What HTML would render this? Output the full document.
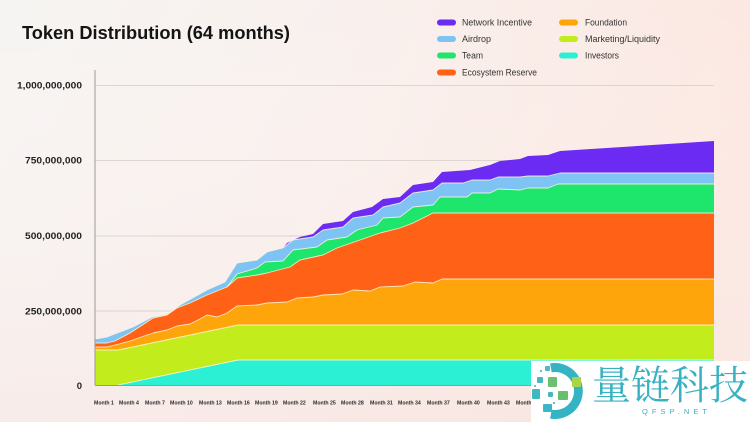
<!DOCTYPE html>
<html>
<head>
<meta charset="utf-8">
<style>
html,body{margin:0;padding:0;width:750px;height:422px;overflow:hidden;}
svg{display:block;}
</style>
</head>
<body>
<svg width="750" height="422" viewBox="0 0 750 422" xmlns="http://www.w3.org/2000/svg">
<defs>
<linearGradient id="bg" x1="0" y1="0" x2="1" y2="0.35">
<stop offset="0" stop-color="#f6f4f2"/>
<stop offset="0.45" stop-color="#f9f0ed"/>
<stop offset="1" stop-color="#fce6df"/>
</linearGradient>
<linearGradient id="bg2" x1="0" y1="0" x2="0" y2="1">
<stop offset="0" stop-color="#ffffff" stop-opacity="0"/>
<stop offset="1" stop-color="#f6e6e4" stop-opacity="0.5"/>
</linearGradient>
</defs>
<rect x="0" y="0" width="750" height="422" fill="url(#bg)"/>
<rect x="0" y="0" width="750" height="422" fill="url(#bg2)"/>

<!-- title -->
<text x="22" y="39" font-family="Liberation Sans, sans-serif" font-weight="bold" font-size="18" fill="#141414" textLength="268" lengthAdjust="spacingAndGlyphs">Token Distribution (64 months)</text>

<!-- legend -->
<g font-family="Liberation Sans, sans-serif" font-size="9" fill="#333">
<rect x="437" y="19.5" width="19" height="6" rx="3" fill="#6b2bf2"/>
<text x="462" y="25.7" textLength="70" lengthAdjust="spacingAndGlyphs">Network Incentive</text>
<rect x="437" y="36" width="19" height="6" rx="3" fill="#7ec3f4"/>
<text x="462" y="42.2" textLength="29" lengthAdjust="spacingAndGlyphs">Airdrop</text>
<rect x="437" y="52.5" width="19" height="6" rx="3" fill="#1ee56b"/>
<text x="462" y="58.7" textLength="21" lengthAdjust="spacingAndGlyphs">Team</text>
<rect x="437" y="69.5" width="19" height="6" rx="3" fill="#ff6116"/>
<text x="462" y="75.7" textLength="75" lengthAdjust="spacingAndGlyphs">Ecosystem Reserve</text>
<rect x="559" y="19.5" width="19" height="6" rx="3" fill="#ffa50c"/>
<text x="585" y="25.7" textLength="42" lengthAdjust="spacingAndGlyphs">Foundation</text>
<rect x="559" y="36" width="19" height="6" rx="3" fill="#c3ec1d"/>
<text x="585" y="42.2" textLength="75" lengthAdjust="spacingAndGlyphs">Marketing/Liquidity</text>
<rect x="559" y="52.5" width="19" height="6" rx="3" fill="#2bf0d3"/>
<text x="585" y="58.7" textLength="34" lengthAdjust="spacingAndGlyphs">Investors</text>
</g>

<!-- gridlines -->
<g stroke="#ddd5d2" stroke-width="1">
<line x1="95" y1="85.5" x2="714" y2="85.5"/>
<line x1="95" y1="160.5" x2="714" y2="160.5"/>
<line x1="95" y1="236" x2="714" y2="236"/>
<line x1="95" y1="311" x2="714" y2="311"/>
</g>

<!-- y labels -->
<g font-family="Liberation Sans, sans-serif" font-weight="bold" font-size="9.5" fill="#222" text-anchor="end">
<text x="82" y="88.5" textLength="65" lengthAdjust="spacingAndGlyphs">1,000,000,000</text>
<text x="82" y="163.5" textLength="57" lengthAdjust="spacingAndGlyphs">750,000,000</text>
<text x="82" y="239" textLength="57" lengthAdjust="spacingAndGlyphs">500,000,000</text>
<text x="82" y="314.5" textLength="57" lengthAdjust="spacingAndGlyphs">250,000,000</text>
<text x="82" y="389">0</text>
</g>

<!-- areas (painter's order) -->
<polygon fill="#6b2bf2" points="95,339 107,337 133,327 152,317 167,314 180,305 207,290 225,282 237,263 257,260 267,252 283,248 287,243 300,237 313,234 323,224 343,221 353,212 372,207 383,199 400,197 413,185 433,182 442,172 470,170 490,165 500,161 520,159 528,156 548,155 560,151 714,141 714,385 95,385"/>
<polygon fill="#7ec3f4" points="95,339 107,337 133,327 152,317 167,314 180,305 207,290 225,282 237,263 257,260 267,252 283,248 293,240 313,237 323,230 343,227 353,218 373,215 383,207 400,203 413,193 433,190 442,183 463,183 472,180 490,180 498,177 520,177 528,176 548,176 560,173 714,173 714,385 95,385"/>
<polygon fill="#1ee56b" points="95,343 107,343 115,341 130,333 147,322 153,318 167,315 177,308 190,303 207,295 227,287 237,274 257,268 265,262 283,261 293,250 317,247 327,240 347,237 357,230 377,225 383,218 400,217 413,207 433,205 440,197 467,197 472,193 490,193 498,189 520,190 528,188 548,188 558,184 714,184 714,385 95,385"/>
<polygon fill="#ff6116" points="95,343 107,343 115,341 130,333 147,322 153,318 167,315 177,308 190,303 207,295 227,287 237,278 257,275 267,273 290,267 300,260 323,255 337,248 357,241 380,233 400,228 413,223 433,213 714,213 714,385 95,385"/>
<polygon fill="#ffa50c" points="95,347 107,347 115,345 130,341 147,335 153,333 167,330 177,326 190,324 200,319 207,315 217,317 227,313 237,306 257,305 267,303 287,302 297,298 313,297 323,295 342,294 353,290 370,291 380,287 403,286 415,282 433,283 442,279 714,279 714,385 95,385"/>
<polygon fill="#c3ec1d" points="95,350 118,350 238,325 714,325 714,385 95,385"/>
<polygon fill="#2bf0d3" points="95,385 118,385 238,360 714,360 714,385 95,385"/>

<!-- separators -->
<g fill="none" stroke="#fff7dc" stroke-width="0.9" stroke-opacity="0.85" stroke-linejoin="round">
<polyline points="95,339 107,337 133,327 152,317 167,314 180,305 207,290 225,282 237,263 257,260 267,252 283,248 293,240 313,237 323,230 343,227 353,218 373,215 383,207 400,203 413,193 433,190 442,183 463,183 472,180 490,180 498,177 520,177 528,176 548,176 560,173 714,173"/>
<polyline points="227,287 237,274 257,268 265,262 283,261 293,250 317,247 327,240 347,237 357,230 377,225 383,218 400,217 413,207 433,205 440,197 467,197 472,193 490,193 498,189 520,190 528,188 548,188 558,184 714,184"/>
<polyline points="95,343 107,343 115,341 130,333 147,322 153,318 167,315 177,308 190,303 207,295 227,287 237,278 257,275 267,273 290,267 300,260 323,255 337,248 357,241 380,233 400,228 413,223 433,213 714,213"/>
<polyline points="95,347 107,347 115,345 130,341 147,335 153,333 167,330 177,326 190,324 200,319 207,315 217,317 227,313 237,306 257,305 267,303 287,302 297,298 313,297 323,295 342,294 353,290 370,291 380,287 403,286 415,282 433,283 442,279 714,279"/>
<polyline points="95,350 118,350 238,325 714,325"/>
<polyline points="118,385 238,360 714,360"/>
</g>

<!-- axes -->
<line x1="95" y1="70" x2="95" y2="385" stroke="#9a9a9a" stroke-width="1"/>
<line x1="95" y1="385.5" x2="714" y2="385.5" stroke="#8c9c9c" stroke-width="1"/>

<!-- x labels -->
<g font-family="Liberation Sans, sans-serif" font-weight="bold" font-size="5.2" fill="#2a2a2a">
<text x="94" y="404.5">Month 1</text>
<text x="119" y="404.5">Month 4</text>
<text x="145" y="404.5">Month 7</text>
<text x="170" y="404.5">Month 10</text>
<text x="199" y="404.5">Month 13</text>
<text x="227" y="404.5">Month 16</text>
<text x="255" y="404.5">Month 19</text>
<text x="283" y="404.5">Month 22</text>
<text x="313" y="404.5">Month 25</text>
<text x="341" y="404.5">Month 28</text>
<text x="370" y="404.5">Month 31</text>
<text x="398" y="404.5">Month 34</text>
<text x="427" y="404.5">Month 37</text>
<text x="457" y="404.5">Month 40</text>
<text x="487" y="404.5">Month 43</text>
<text x="516" y="404.5">Month 46</text>
</g>

<!-- watermark -->
<rect x="531" y="361" width="219" height="61" fill="#ffffff"/>
<path d="M 550.1 363.4 A 28 28 0 1 1 550.1 418.6 L 551.7 409.7 A 19 19 0 1 0 551.7 372.3 Z" fill="#33b3c3"/>
<g>
<rect x="545" y="366" width="5" height="5" rx="1" fill="#52b9c9"/>
<rect x="537" y="377" width="6" height="6" rx="1" fill="#48b5c5"/>
<rect x="548" y="377" width="9" height="10" rx="1" fill="#6cc070"/>
<rect x="572" y="377" width="9" height="10" rx="1" fill="#a8d44a"/>
<rect x="532" y="389" width="8" height="10" rx="1" fill="#3fb8c0"/>
<rect x="548" y="392" width="5" height="5" rx="1" fill="#45b6c6"/>
<rect x="558" y="391" width="10" height="9" rx="1" fill="#66c06c"/>
<rect x="543" y="404" width="9" height="8" rx="1" fill="#3ab6c6"/>
<rect x="540" y="370" width="2" height="2" fill="#6ac0cc"/>
<rect x="534" y="385" width="2" height="2" fill="#6ac0cc"/>
<rect x="553" y="402" width="2" height="2" fill="#6ac0cc"/>
</g>
<text x="592" y="399" font-family="Noto Serif CJK SC, serif" font-size="40" fill="#38b2c3" textLength="156" lengthAdjust="spacingAndGlyphs">量链科技</text>
<text x="642" y="414" font-family="Liberation Sans, sans-serif" font-size="7.5" fill="#3ab0c0" textLength="65" lengthAdjust="spacing">QFSP.NET</text>
</svg>
</body>
</html>
